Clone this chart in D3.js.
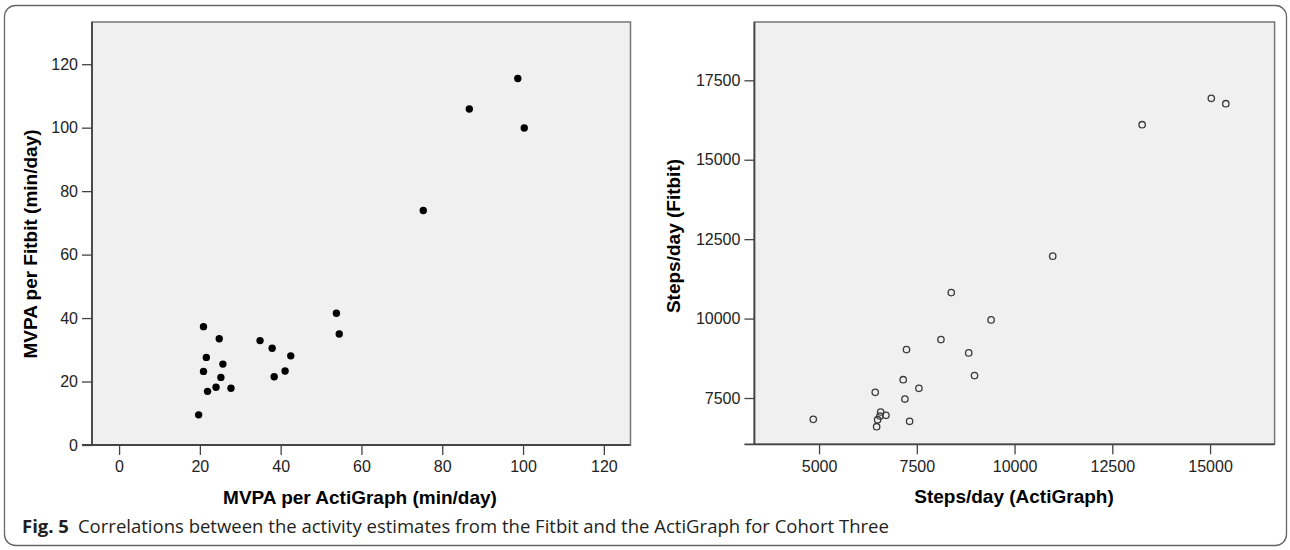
<!DOCTYPE html>
<html>
<head>
<meta charset="utf-8">
<script src="https://cdn.jsdelivr.net/npm/d3@7"></script>
<style>
  body { margin: 0; background: #fff; }
  svg { display: block; }
  .tick text { font-family: 'Liberation Sans', Arial, sans-serif; font-size: 16px; fill: #222; }
  .tick line { stroke: #444; stroke-width: 1.3; }
  .axisTitle { font-family: 'Liberation Sans', Arial, sans-serif; font-size: 19px; font-weight: bold; fill: #000; }
  .caption { font-family: 'Open Sans', sans-serif; font-size: 18px; fill: #231f20; }
</style>
</head>
<body>
<script>
// MVPA (min/day): ActiGraph vs Fitbit
var mvpaActi   = [98.7, 86.7, 100.3, 75.3, 53.8, 54.5, 20.9, 24.8, 34.9, 37.9, 42.5,
                  21.6, 25.7, 20.9, 41.1, 25.2, 38.4, 24.0, 27.7, 21.9, 19.7];
var mvpaFitbit = [115.5, 105.9, 99.9, 73.9, 41.5, 35.0, 37.3, 33.5, 32.9, 30.5, 28.1,
                  27.6, 25.5, 23.2, 23.3, 21.3, 21.5, 18.2, 17.9, 16.9, 9.5];

// Steps/day: ActiGraph vs Fitbit
var stepsActi   = [15032, 15404, 13263, 10976, 8381, 9400, 8117, 7236, 8828, 8976, 7152,
                   7554, 6437, 7196, 4852, 6575, 6710, 6557, 6498, 7316, 6472];
var stepsFitbit = [16933, 16764, 16102, 11965, 10818, 9959, 9339, 9024, 8920, 8206, 8077,
                   7806, 7680, 7468, 6828, 7059, 6955, 6933, 6817, 6767, 6597];

var mvpaTicks   = [0, 20, 40, 60, 80, 100, 120];
var stepsTicks  = [5000, 7500, 10000, 12500, 15000];
var stepsYTicks = [7500, 10000, 12500, 15000, 17500];

var width  = 1290;
var height = 550;

var svg = d3.select('body')
  .append('svg')
    .attr('width', width)
    .attr('height', height);

// outer figure frame
svg.append('rect')
    .attr('x', 4.5).attr('y', 5.5)
    .attr('width', 1282).attr('height', 540)
    .attr('rx', 11)
    .attr('fill', 'none')
    .attr('stroke', '#666')
    .attr('stroke-width', 1.3);

function panel(opt) {
  var xScale = d3.scaleLinear().domain(opt.xDomain).range([opt.left, opt.right]);
  var yScale = d3.scaleLinear().domain(opt.yDomain).range([opt.bottom, opt.top]);

  svg.append('rect')
      .attr('x', opt.left).attr('y', opt.top)
      .attr('width', opt.right - opt.left)
      .attr('height', opt.bottom - opt.top)
      .attr('fill', '#f0f0f0')
      .attr('stroke', '#777')
      .attr('stroke-width', 1.5);

  var xAxis = d3.axisBottom(xScale)
      .tickValues(opt.xTicks)
      .tickSize(10)
      .tickPadding(6)
      .tickFormat(d3.format('d'));
  svg.append('g')
      .attr('class', 'x axis')
      .attr('transform', 'translate(0,' + opt.bottom + ')')
      .call(xAxis)
      .call(function (g) { g.select('.domain').remove(); });

  var yAxis = d3.axisLeft(yScale)
      .tickValues(opt.yTicks)
      .tickSize(10)
      .tickPadding(4)
      .tickFormat(d3.format('d'));
  svg.append('g')
      .attr('class', 'y axis')
      .attr('transform', 'translate(' + opt.left + ',0)')
      .call(yAxis)
      .call(function (g) { g.select('.domain').remove(); });

  // darker axis lines on left and bottom
  svg.append('line')
      .attr('x1', opt.left).attr('x2', opt.left)
      .attr('y1', opt.top).attr('y2', opt.bottom)
      .attr('stroke', '#444').attr('stroke-width', 1.8);
  svg.append('line')
      .attr('x1', opt.left - 10).attr('x2', opt.right)
      .attr('y1', opt.bottom).attr('y2', opt.bottom)
      .attr('stroke', '#444').attr('stroke-width', 1.8);

  var pts = opt.xs.map(function (d, i) { return { x: d, y: opt.ys[i] }; });
  svg.append('g').selectAll('circle')
      .data(pts)
      .enter().append('circle')
        .attr('cx', function (d) { return xScale(d.x); })
        .attr('cy', function (d) { return yScale(d.y); })
        .attr('r', opt.filled ? 3.7 : 3.2)
        .attr('fill', opt.filled ? '#000' : 'none')
        .attr('stroke', opt.filled ? 'none' : '#3a3a3a')
        .attr('stroke-width', 1.3);

  svg.append('text')
      .attr('class', 'axisTitle')
      .attr('x', opt.xTitlePos[0]).attr('y', opt.xTitlePos[1])
      .attr('text-anchor', 'middle')
      .text(opt.xTitle);

  svg.append('text')
      .attr('class', 'axisTitle')
      .attr('transform', 'translate(' + opt.yTitlePos[0] + ',' + opt.yTitlePos[1] + ') rotate(-90)')
      .attr('text-anchor', 'middle')
      .text(opt.yTitle);
}

panel({
  left: 92, right: 630.5, top: 22, bottom: 445,
  xDomain: [-6.7, 126.6], yDomain: [0, 133.3],
  xTicks: mvpaTicks, yTicks: mvpaTicks,
  xs: mvpaActi, ys: mvpaFitbit, filled: true,
  xTitle: 'MVPA per ActiGraph (min/day)', xTitlePos: [360, 504],
  yTitle: 'MVPA per Fitbit (min/day)', yTitlePos: [37, 244]
});

panel({
  left: 754.4, right: 1274.6, top: 22, bottom: 444.3,
  xDomain: [3346, 16651], yDomain: [6043, 19335],
  xTicks: stepsTicks, yTicks: stepsYTicks,
  xs: stepsActi, ys: stepsFitbit, filled: false,
  xTitle: 'Steps/day (ActiGraph)', xTitlePos: [1014, 503],
  yTitle: 'Steps/day (Fitbit)', yTitlePos: [680, 236]
});

// caption, sized so it spans the same width as the original
var cap = svg.append('text')
    .attr('class', 'caption')
    .attr('x', 22).attr('y', 533);
cap.append('tspan').attr('font-weight', 'bold').text('Fig. 5');
cap.append('tspan').attr('dx', 9).text('Correlations between the activity estimates from the Fitbit and the ActiGraph for Cohort Three');
var capW = cap.node().getComputedTextLength();
cap.style('font-size', (18 * 858 / capW).toFixed(2) + 'px');
</script>
</body>
</html>
